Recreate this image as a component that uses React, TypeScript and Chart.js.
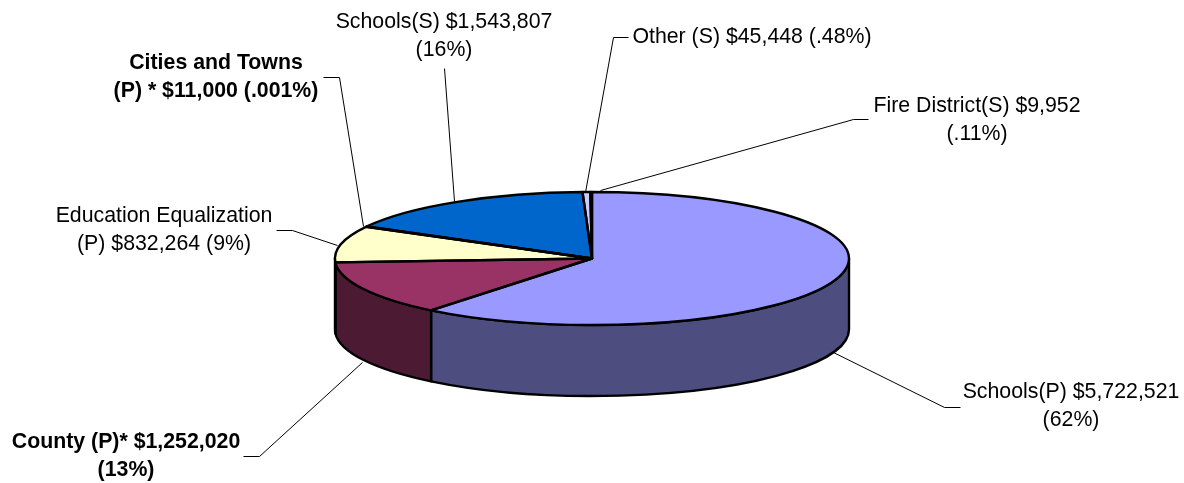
import React, { useEffect, useRef } from "react";
import { Chart, registerables } from "chart.js";

Chart.register(...registerables);

const categories = [
  "Schools(P)",
  "County (P)*",
  "Education Equalization (P)",
  "Cities and Towns (P) *",
  "Schools(S)",
  "Other (S)",
  "Fire District(S)",
];
const amounts = [5722521, 1252020, 832264, 11000, 1543807, 45448, 9952];
const topColors = ["#9999FF", "#993366", "#FFFFCC", "#E0E0E0", "#0066CC", "#CCCCFF", "#9999FF"];
const wallColors = ["#4D4D80", "#4D1A33", "#808066", "#707070", "#003366", "#666680", "#4D4D80"];

const labelLines = [
  ["Schools(P) $5,722,521", "(62%)"],
  ["County (P)* $1,252,020", "(13%)"],
  ["Education Equalization", "(P) $832,264 (9%)"],
  ["Cities and Towns", "(P) * $11,000 (.001%)"],
  ["Schools(S) $1,543,807", "(16%)"],
  ["Other (S) $45,448 (.48%)"],
  ["Fire District(S) $9,952", "(.11%)"],
];
const labelBold = [false, true, false, true, false, false, false];

// Layout (pixels)
const PIE = { cx: 592, cy: 258.5, rx: 257, ry: 66.5, depth: 71 };
const labelCenters = [
  [1071, 406],
  [126, 456],
  [164, 230],
  [216, 77],
  [444, 36],
  [752, 37],
  [977, 120],
];
const leaders = [
  [[833, 352], [944, 407], [960, 407]],
  [[362, 362], [259, 456], [243, 456]],
  [[337, 245], [292, 230], [276, 230]],
  [[363, 226], [339, 77], [323, 77]],
  [[454, 201], [444, 68]],
  [[585, 192], [613, 37], [628, 37]],
  [[600, 190], [853, 119], [868, 119]],
];
const LINE_HEIGHT = 28;
const FONT_SIZE = 21.3;

const pie3d = {
  id: "pie3d",
  beforeDatasetsDraw(chart: any) {
    const { ctx } = chart;
    const arcs = chart.getDatasetMeta(0).data;
    const { cx, cy, rx, ry, depth } = PIE;
    ctx.save();
    ctx.lineWidth = 2.4;
    ctx.strokeStyle = "#000";
    ctx.lineJoin = "round";
    arcs.forEach((arc: any, i: number) => {
      const a = Math.max(arc.startAngle, 0);
      const b = Math.min(arc.endAngle, Math.PI);
      if (b <= a) return;
      ctx.beginPath();
      ctx.ellipse(cx, cy, rx, ry, 0, a, b, false);
      ctx.ellipse(cx, cy + depth, rx, ry, 0, b, a, true);
      ctx.closePath();
      ctx.fillStyle = wallColors[i];
      ctx.fill();
      ctx.stroke();
    });
    ctx.restore();
    // Flatten the library's own arcs into the ellipse of the top face.
    const first = arcs[0];
    ctx.save();
    ctx.translate(cx, cy);
    ctx.scale(rx / first.outerRadius, ry / first.outerRadius);
    ctx.translate(-first.x, -first.y);
  },
  afterDatasetsDraw(chart: any) {
    const { ctx } = chart;
    ctx.restore();
    const arcs = chart.getDatasetMeta(0).data;
    const { cx, cy, rx, ry } = PIE;
    ctx.save();
    ctx.lineWidth = 2.4;
    ctx.strokeStyle = "#000";
    ctx.lineJoin = "round";
    arcs.forEach((arc: any) => {
      ctx.beginPath();
      ctx.moveTo(cx, cy);
      ctx.ellipse(cx, cy, rx, ry, 0, arc.startAngle, arc.endAngle, false);
      ctx.closePath();
      ctx.stroke();
    });
    ctx.restore();

    ctx.save();
    ctx.lineWidth = 1;
    ctx.strokeStyle = "#000";
    leaders.forEach((pts) => {
      ctx.beginPath();
      pts.forEach(([x, y], k) => (k ? ctx.lineTo(x + 0.5, y + 0.5) : ctx.moveTo(x + 0.5, y + 0.5)));
      ctx.stroke();
    });
    ctx.fillStyle = "#000";
    ctx.textAlign = "center";
    ctx.textBaseline = "middle";
    labelLines.forEach((lines, i) => {
      ctx.font = `${labelBold[i] ? "bold " : ""}${FONT_SIZE}px "Liberation Sans", Arial, sans-serif`;
      const [x, y] = labelCenters[i];
      const top = y - ((lines.length - 1) * LINE_HEIGHT) / 2;
      lines.forEach((t, k) => ctx.fillText(t, x, top + k * LINE_HEIGHT));
    });
    ctx.restore();
  },
};

export default function App() {
  const ref = useRef<HTMLCanvasElement>(null);
  useEffect(() => {
    const chart = new Chart(ref.current!, {
      type: "pie",
      data: {
        labels: categories,
        datasets: [{ data: amounts, backgroundColor: topColors, borderWidth: 0 }],
      },
      options: {
        responsive: false,
        animation: false,
        plugins: { legend: { display: false }, tooltip: { enabled: false } },
      },
      plugins: [pie3d],
    });
    return () => chart.destroy();
  }, []);
  return (
    <div style={{ position: "fixed", left: 0, top: 0, width: 1184, height: 483, background: "#fff" }}>
      <canvas ref={ref} width={1184} height={483} style={{ display: "block" }} />
    </div>
  );
}
